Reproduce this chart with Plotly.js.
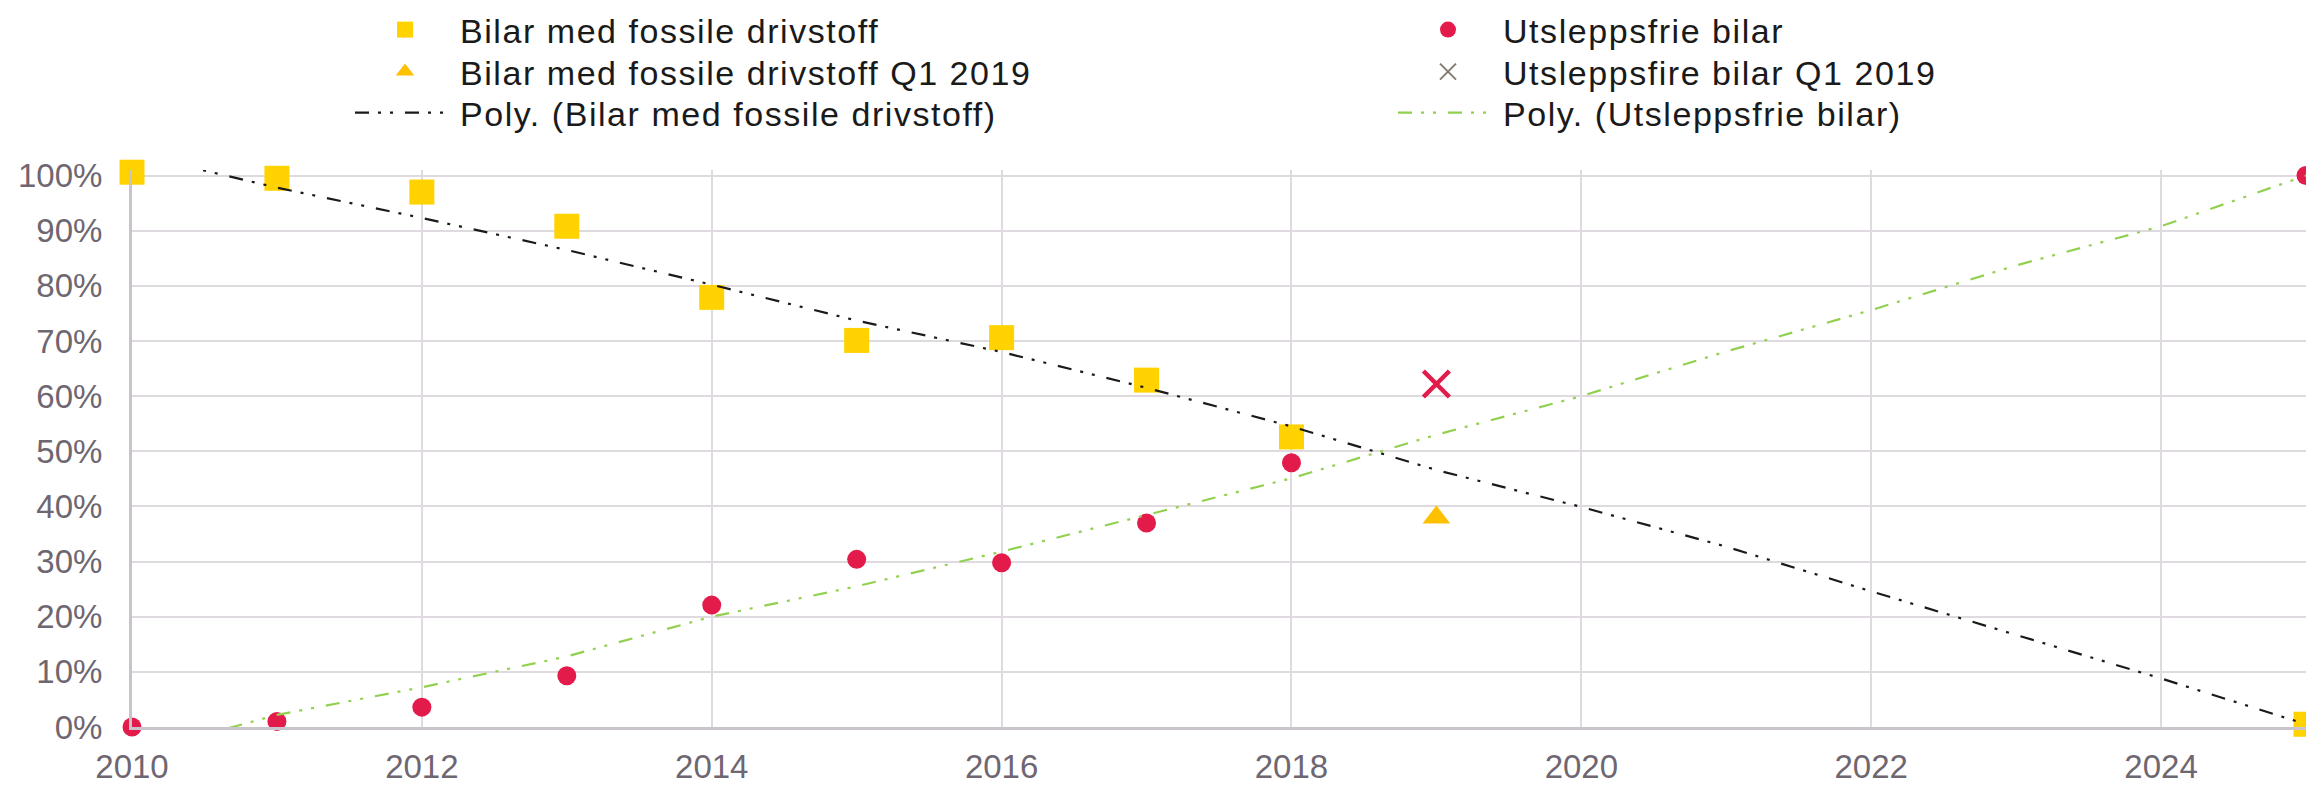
<!DOCTYPE html>
<html>
<head>
<meta charset="utf-8">
<script src="https://cdn.plot.ly/plotly-3.0.1.min.js"></script>
<style>
html,body{margin:0;padding:0;background:#fff;}
#chart{width:2306px;height:785px;}
.legendtext,.legend2text,.legend3text,.legend4text,.legend5text,.legend6text{letter-spacing:1.55px;}
</style>
</head>
<body>
<div id="chart"></div>
<script>
// Observed years
const years = [2010, 2011, 2012, 2013, 2014, 2015, 2016, 2017, 2018, 2025];
const fossilShare = [1.006, 0.995, 0.970, 0.908, 0.779, 0.701, 0.706, 0.629, 0.526, 0.005];
const zeroShare = [0.000, 0.010, 0.036, 0.093, 0.221, 0.304, 0.298, 0.370, 0.479, 1.000];

// Q1 2019
const q1Year = [2019];
const fossilQ1 = [0.38];
const zeroQ1 = [0.622];

// Polynomial trend lines
const trendYears = [2010, 2011, 2012, 2013, 2014, 2015, 2016, 2017, 2018, 2019, 2020, 2021, 2022, 2023, 2024, 2025];
const fossilTrend = [1.04, 0.978, 0.923, 0.865, 0.802, 0.737, 0.680, 0.615, 0.545, 0.466, 0.399, 0.327, 0.246, 0.167, 0.088, 0.005];
const zeroTrend = [-0.05, 0.022, 0.072, 0.128, 0.200, 0.255, 0.318, 0.385, 0.451, 0.530, 0.600, 0.681, 0.756, 0.837, 0.908, 1.000];

const xTicks = [2010, 2012, 2014, 2016, 2018, 2020, 2022, 2024];
const yTicks = [0, 0.1, 0.2, 0.3, 0.4, 0.5, 0.6, 0.7, 0.8, 0.9, 1.0];

const names = {
  fossil: 'Bilar med fossile drivstoff',
  fossilQ1: 'Bilar med fossile drivstoff Q1 2019',
  fossilPoly: 'Poly. (Bilar med fossile drivstoff)',
  zero: 'Utsleppsfrie bilar',
  zeroQ1: 'Utsleppsfire bilar Q1 2019',
  zeroPoly: 'Poly. (Utsleppsfrie bilar)'
};

const YELLOW = '#FFD200', ORANGE = '#FFC000', RED = '#E31B4B', GREEN = '#92D050', BLACK = '#1a1a1a', GREYX = '#857b70';
const dashPattern = '14px,9px,3px,9px,3px,12px';

const traces = [
  {x: years, y: fossilShare, name: names.fossil, type: 'scatter', mode: 'markers', cliponaxis: false,
   marker: {symbol: 'square', size: 25, color: YELLOW}, legend: 'legend'},
  {x: q1Year, y: fossilQ1, name: names.fossilQ1, type: 'scatter', mode: 'markers', cliponaxis: false,
   marker: {symbol: 'triangle-up', size: 24, color: ORANGE}, legend: 'legend2'},
  {x: years, y: zeroShare, name: names.zero, type: 'scatter', mode: 'markers', cliponaxis: false,
   marker: {symbol: 'circle', size: 19, color: RED}, legend: 'legend4'},
  {x: q1Year, y: zeroQ1, name: names.zeroQ1, type: 'scatter', mode: 'markers', cliponaxis: false, showlegend: false,
   marker: {symbol: 'x-thin-open', size: 26, color: RED, line: {color: RED, width: 4.5}}},
  // legend-only entry with grey cross (its point lies outside the visible range)
  {x: [2030], y: [0.5], name: names.zeroQ1, type: 'scatter', mode: 'markers', cliponaxis: true,
   marker: {symbol: 'x-thin-open', size: 16, color: GREYX, line: {color: GREYX, width: 2}}, legend: 'legend5'},
  {x: trendYears, y: fossilTrend, name: names.fossilPoly, type: 'scatter', mode: 'lines',
   line: {color: BLACK, width: 2.2, dash: dashPattern}, legend: 'legend3'},
  {x: trendYears, y: zeroTrend, name: names.zeroPoly, type: 'scatter', mode: 'lines',
   line: {color: GREEN, width: 2.2, dash: dashPattern}, legend: 'legend6'}
];

const legendFont = {family: 'Liberation Sans, Arial, sans-serif', size: 34, color: '#1a1a1a'};
function mkLegend(xpx, ypx) {
  return {xref: 'container', yref: 'container', x: xpx / 2306, y: 1 - ypx / 785,
          xanchor: 'left', yanchor: 'middle', orientation: 'v', font: legendFont,
          bgcolor: 'rgba(0,0,0,0)', itemwidth: 100, tracegroupgap: 0};
}
const rowY = [30, 72, 113];
const colX = [350, 1393];

// y axis: 0% at 727px, 100% at 176px; small headroom above 100% so the 2010 point stays visible
const yTop = 1.01;
const layout = {
  width: 2306, height: 785,
  margin: {l: 132, r: 0, t: 176 - 551 * (yTop - 1), b: 58, autoexpand: false},
  paper_bgcolor: '#ffffff', plot_bgcolor: '#ffffff',
  font: {family: 'Liberation Sans, Arial, sans-serif', size: 33, color: '#6e6670'},
  showlegend: true,
  legend: mkLegend(colX[0], rowY[0]),
  legend2: mkLegend(colX[0], rowY[1]),
  legend3: mkLegend(colX[0], rowY[2]),
  legend4: mkLegend(colX[1], rowY[0]),
  legend5: mkLegend(colX[1], rowY[1]),
  legend6: mkLegend(colX[1], rowY[2]),
  xaxis: {range: [2010, 2025], tickvals: xTicks, ticktext: xTicks.map(String), showgrid: true, tickangle: 0,
          gridcolor: '#dedadf', gridwidth: 2, zeroline: false, showline: true, linecolor: '#c9c3cb', linewidth: 3,
          ticks: '', ticklabelstandoff: 8, tickfont: {size: 33, color: '#6e6670'}, fixedrange: true},
  yaxis: {range: [0, yTop], tickvals: yTicks, tickformat: '.0%', showgrid: true,
          gridcolor: '#dedadf', gridwidth: 2, zeroline: false, showline: true, linecolor: '#c9c3cb', linewidth: 3,
          ticks: '', ticklabelstandoff: 20, tickfont: {size: 33, color: '#6e6670'}, fixedrange: true}
};

Plotly.newPlot('chart', traces, layout, {displayModeBar: false, staticPlot: true});
</script>
</body>
</html>
